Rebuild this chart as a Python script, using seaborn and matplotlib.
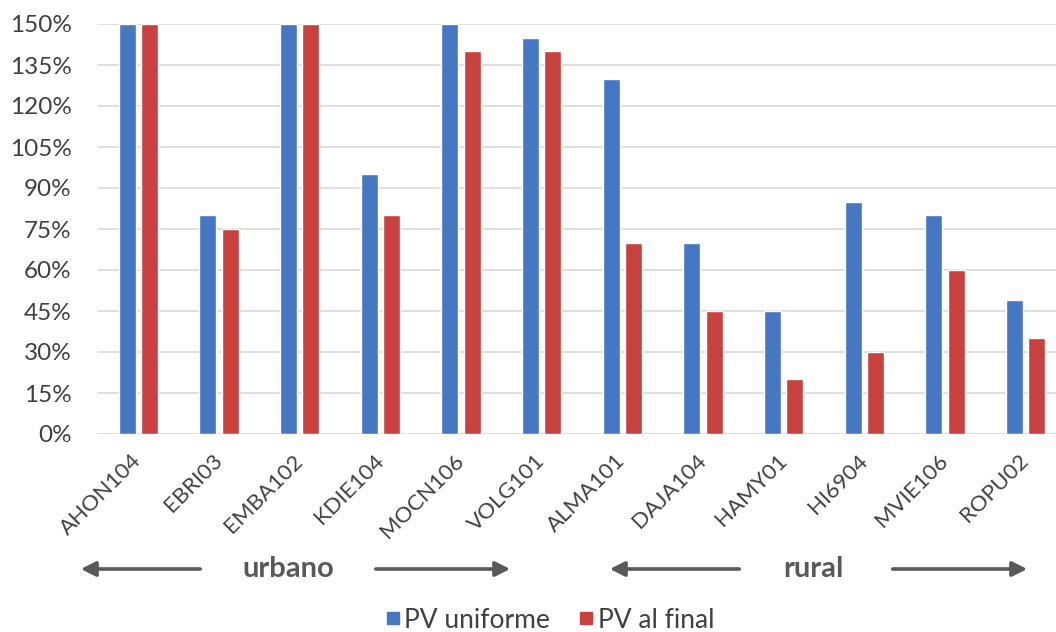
import matplotlib
matplotlib.use("Agg")
import matplotlib.pyplot as plt
from matplotlib.lines import Line2D
from matplotlib.ticker import FuncFormatter, FixedLocator
import pandas as pd
import seaborn as sns

# Estaciones (urbanas primero, luego rurales)
estaciones = ["AHON104", "EBRI03", "EMBA102", "KDIE104", "MOCN106", "VOLG101",
              "ALMA101", "DAJA104", "HAMY01", "HI6904", "MVIE106", "ROPU02"]
pv_uniforme = [150, 80, 150, 95, 150, 145, 130, 70, 45, 85, 80, 49]
pv_al_final = [150, 75, 150, 80, 140, 140, 70, 45, 20, 30, 60, 35]
series = ["PV uniforme", "PV al final"]
colores = ["#4677C3", "#C8413F"]
y_ticks = list(range(0, 151, 15))
grupos = ["urbano", "rural"]

df = pd.DataFrame({
    "estacion": estaciones * 2,
    "serie": [series[0]] * len(estaciones) + [series[1]] * len(estaciones),
    "valor": pv_uniforme + pv_al_final,
})

sns.set_theme(style="white")
plt.rcParams["font.family"] = ["Lato", "DejaVu Sans"]

fig = plt.figure(figsize=(10.56, 6.32), dpi=100)
ax = fig.add_axes([98 / 1056, 1 - 434 / 632, 968 / 1056, 410 / 632])

sns.barplot(data=df, x="estacion", y="valor", hue="serie", order=estaciones,
            hue_order=series, palette=colores, width=0.56, gap=0.25,
            saturation=1, ax=ax, errorbar=None, legend=False)

ax.set_xlim(-0.5, len(estaciones) - 0.5)
ax.set_ylim(0, 150)
ax.yaxis.set_major_locator(FixedLocator(y_ticks))
ax.yaxis.set_major_formatter(FuncFormatter(lambda v, _: f"{v:.0f}%"))
ax.grid(axis="y", color="#d9d9d9", linewidth=1.2)
ax.set_axisbelow(True)
for s in ax.spines.values():
    s.set_visible(False)
ax.set_xlabel("")
ax.set_ylabel("")

ax.tick_params(axis="y", length=0, pad=19, labelsize=17.5, labelcolor="#404040")
ax.tick_params(axis="x", length=0, pad=17, labelsize=16, labelcolor="#404040")
for lbl in ax.get_xticklabels():
    lbl.set_rotation(45)
    lbl.set_ha("right")
    lbl.set_va("center")
    lbl.set_rotation_mode("anchor")

# Leyenda inferior con marcadores cuadrados
handles = [Line2D([], [], marker="s", linestyle="", markersize=9,
                  markerfacecolor=c, markeredgecolor=c) for c in colores]
fig.legend(handles, series, loc="center", bbox_to_anchor=(0.521, 1 - 620 / 632),
           ncol=2, frameon=False, fontsize=19, handlelength=0.5,
           handletextpad=0.2, columnspacing=1.1,
           labelcolor="#404040", borderpad=0.1)

# Flechas que agrupan las estaciones urbanas y rurales
arrow_kw = dict(arrowstyle="-|>", color="#595959", lw=2.6, mutation_scale=22)
y_fl = 1 - 569 / 632
for (x_txt, x_l0, x_l1, x_r0, x_r1), nombre in zip(
        [(288, 203, 78, 373, 513), (813, 742, 607, 890, 1030)], grupos):
    fig.text(x_txt / 1056, y_fl, nombre, ha="center", va="center",
             fontsize=21, fontweight="bold", color="#595959")
    ax.annotate("", xy=(x_l1 / 1056, y_fl), xytext=(x_l0 / 1056, y_fl),
                xycoords="figure fraction", arrowprops=arrow_kw)
    ax.annotate("", xy=(x_r1 / 1056, y_fl), xytext=(x_r0 / 1056, y_fl),
                xycoords="figure fraction", arrowprops=arrow_kw)

fig.savefig("out.png", dpi=100, facecolor="white")
